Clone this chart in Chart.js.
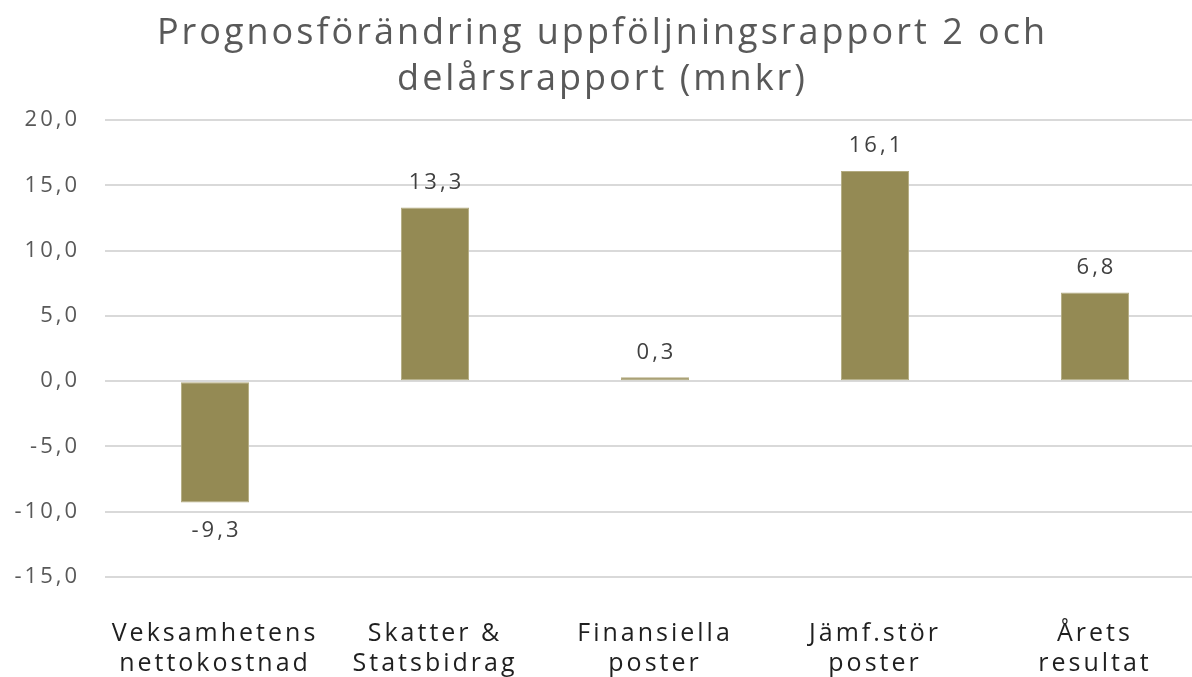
<!DOCTYPE html>
<html>
<head>
<meta charset="utf-8">
<script src="https://cdn.jsdelivr.net/npm/chart.js@4"></script>
<style>
  body { margin: 0; overflow: hidden; background: #fff; }
  canvas { display: block; }
</style>
</head>
<body>
<canvas id="prognosChart" width="1230" height="677"></canvas>
<script>
const categories = [
  ["Veksamhetens", "nettokostnad"],
  ["Skatter &", "Statsbidrag"],
  ["Finansiella", "poster"],
  ["Jämf.stör", "poster"],
  ["Årets", "resultat"],
];
const values = [-9.3, 13.3, 0.3, 16.1, 6.8];
const yTicks = [-15, -10, -5, 0, 5, 10, 15, 20];

const fmt = (v) => v.toFixed(1).replace(".", ",");

// the original text is set wide, so space the letters out a bit
const wideText = {
  id: "wideText",
  beforeUpdate(chart) {
    chart.ctx.letterSpacing = "3px";
  },
  beforeDraw(chart) {
    chart.ctx.letterSpacing = "3px";
  },
};

// labels above / below each bar
const valueLabels = {
  id: "valueLabels",
  afterDatasetsDraw(chart) {
    const ctx = chart.ctx;
    const meta = chart.getDatasetMeta(0);
    ctx.save();
    ctx.font = "22px 'Open Sans'";
    ctx.fillStyle = "#404040";
    ctx.textAlign = "center";
    ctx.textBaseline = "middle";
    meta.data.forEach((bar, i) => {
      const v = values[i];
      const y = v >= 0 ? bar.y - 25 : bar.y + 28;
      ctx.fillText(fmt(v), bar.x + 1.5, y);
    });
    ctx.restore();
  },
};

const ctx = document.getElementById("prognosChart");

new Chart(ctx, {
  type: "bar",
  data: {
    labels: categories,
    datasets: [
      {
        label: "Prognosförändring",
        data: values,
        backgroundColor: "#948a54",
        borderColor: "#b3ab80",
        borderWidth: 1,
        borderSkipped: false,
        categoryPercentage: 0.62,
        barPercentage: 0.5,
      },
    ],
  },
  options: {
    responsive: false,
    animation: false,
    layout: {
      padding: { left: 0, right: 25, top: 0, bottom: 0 },
    },
    scales: {
      x: {
        grid: { display: false },
        border: { display: false },
        ticks: {
          color: "#1f1f1f",
          font: { family: "'Open Sans'", size: 25 },
          maxRotation: 0,
          autoSkip: false,
          padding: 34,
        },
        afterFit(scale) {
          scale.height = 100;
        },
      },
      y: {
        min: -15,
        max: 20,
        afterBuildTicks(scale) {
          scale.ticks = yTicks.map((v) => ({ value: v }));
        },
        grid: { color: "#d9d9d9", lineWidth: 2, drawTicks: false },
        border: { display: false },
        ticks: {
          color: "#595959",
          font: { family: "'Open Sans'", size: 22 },
          padding: 25,
          callback: (v) => fmt(v),
        },
        afterFit(scale) {
          scale.width = 105;
        },
      },
    },
    plugins: {
      legend: { display: false },
      tooltip: { enabled: false },
      title: {
        display: true,
        text: ["Prognosförändring uppföljningsrapport 2 och", "delårsrapport (mnkr)"],
        color: "#595959",
        font: { family: "'Open Sans'", size: 36, weight: "normal", lineHeight: 1.28 },
        padding: { top: 11, bottom: 17 },
      },
    },
  },
  plugins: [wideText, valueLabels],
});
</script>
</body>
</html>
